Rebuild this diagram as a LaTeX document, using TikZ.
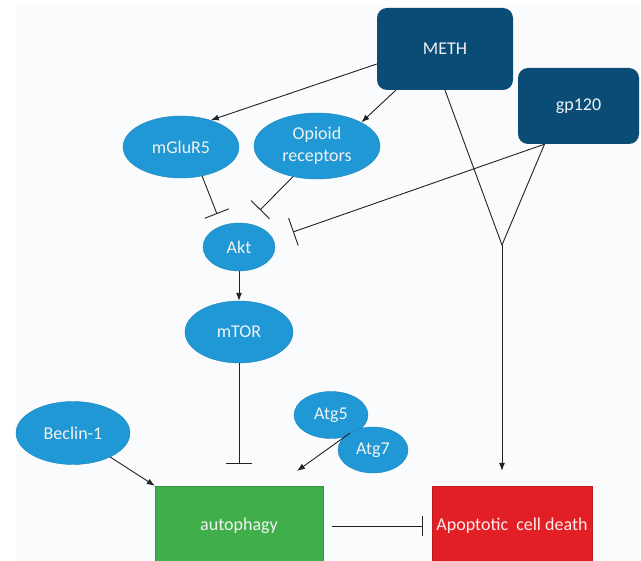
\documentclass[tikz,border=0pt]{standalone}
\usepackage{fontspec}
\setmainfont{Carlito}
\usetikzlibrary{arrows.meta,shapes.geometric,calc}
\definecolor{bgcol}{HTML}{FAFBFD}
\definecolor{darkbox}{HTML}{0B4C77}
\definecolor{lightblue}{HTML}{1F98D5}
\definecolor{greenbox}{HTML}{40AF4A}
\definecolor{redbox}{HTML}{E31F26}
\definecolor{linecol}{HTML}{222222}
\definecolor{txtcol}{HTML}{F2F2F2}
\begin{document}
\begin{tikzpicture}[x=1pt,y=-1pt,
  every node/.style={font=\fontsize{18}{22}\selectfont, text=txtcol, align=center, inner sep=0pt},
  darkrect/.style={rectangle, rounded corners=10pt, fill=darkbox},
  blueell/.style={ellipse, fill=lightblue, draw=lightblue!88!black, line width=0.4pt},
  flatrect/.style={rectangle, draw=#1!85!black, line width=0.4pt, fill=#1},
  conn/.style={draw=linecol, line width=0.9pt},
  act/.style={conn, -{Latex[length=8pt,width=6pt]}},
  inh/.style={conn, -{Bar[width=#1]}}
]
\useasboundingbox (0,0) rectangle (641,561);
\clip (0,0) rectangle (641,561);
\fill[white] (0,0) rectangle (641,561);
\fill[bgcol] (15,6) rectangle (641,561);

% nodes
\node[darkrect, minimum width=136pt, minimum height=82pt] (meth) at (445,49) {METH};
\node[darkrect, minimum width=121pt, minimum height=76pt] (gp) at (578.5,106) {gp120};
\node[blueell, minimum width=116pt, minimum height=62pt] (mg) at (181,147) {mGluR5};
\node[blueell, minimum width=126pt, minimum height=66pt] (op) at (317,146) {Opioid\\receptors};
\node[blueell, minimum width=72pt, minimum height=48pt] (akt) at (239,247) {Akt};
\node[blueell, minimum width=108pt, minimum height=62pt] (mtor) at (239,332) {mTOR};
\node[blueell, minimum width=114pt, minimum height=63pt] (bec) at (73,433) {Beclin-1};
\node[blueell, minimum width=74pt, minimum height=47pt] (atgf) at (331,415) {Atg5};
\node[blueell, minimum width=70pt, minimum height=46pt] (atgs) at (373,450) {Atg7};
\node[flatrect=greenbox, minimum width=168pt, minimum height=80pt] (auto) at (239,526) {autophagy};
\node[flatrect=redbox, minimum width=160pt, minimum height=80pt, text=red!8] (apo) at (512,526) {Apoptotic\ \ cell death};

% free ends
\coordinate (methl) at ($(meth.west)+(0,15)$);
\coordinate (methb) at ($(meth.south west)+(19,0)$);
\coordinate (gpo) at ($(gp.south west)!0.22!(gp.south east)$);
\coordinate (v) at (502,245);
\coordinate (mgend) at (217,214);
\coordinate (opend) at (260,210);
\coordinate (gpend) at (293,232);
\coordinate (mtorend) at (239,464);
\coordinate (atgstart) at (350,433);
\coordinate (atgend) at (297,471);

% connectors
\draw[act] (methl) -- (mg.42);
\draw[act] (methb) -- (op.28);
\draw[inh=26pt] (mg.-54) -- (mgend);
\draw[inh=26pt] (op.-128) -- (opend);
\draw[inh=29pt] (gpo) -- (gpend);
\draw[conn] (meth.south) -- (v) -- (gpo);
\draw[act, shorten >=15pt] (v) -- (v |- apo.north);
\draw[act] (akt.south) -- (mtor.north);
\draw[inh=26pt] (mtor.south) -- (mtorend);
\draw[act] (bec) -- (auto.north west);
\draw[act] (atgstart) -- (atgend);
\draw[inh=20pt, shorten <=9pt, shorten >=9pt] (auto.east) -- (apo.west);
\end{tikzpicture}
\end{document}
